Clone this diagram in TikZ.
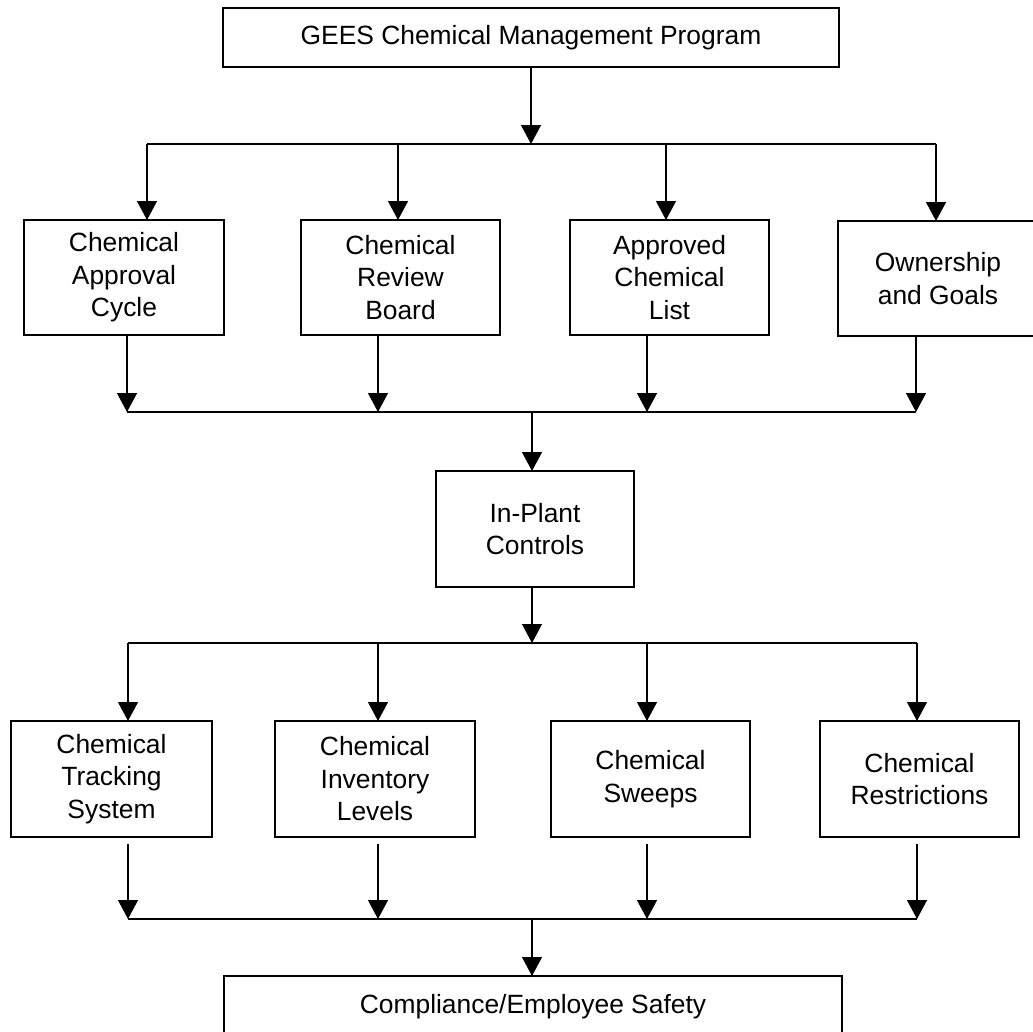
\documentclass[tikz,border=0pt]{standalone}
\usepackage{fontspec}
\setmainfont{Liberation Sans}
\usetikzlibrary{arrows.meta,calc}
\begin{document}
\begin{tikzpicture}[x=1pt,y=-1pt,
  box/.style={draw=black,line width=1.7pt,fill=white,outer sep=0pt,inner sep=0pt,align=center,
    font=\fontsize{26.4}{32.5}\selectfont},
  txt/.style={inner sep=0pt,font=\fontsize{26.4}{32.5}\selectfont},
  wire/.style={line width=1.3pt},
  arr/.style={line width=1.3pt,-{Triangle[length=19pt,width=20pt]}}]
\useasboundingbox (0,0) rectangle (1033,1031);
% nodes
\node[box,minimum width=616pt,minimum height=59pt] (top) at (531,37.5) {GEES Chemical Management Program};
\node[box,minimum width=200pt,minimum height=115pt] (b1) at (124,277.5) {Chemical\\Approval\\Cycle};
\node[box,minimum width=199pt,minimum height=115pt] (b2) at (400.5,277.5) {Chemical\\Review\\Board};
\node[box,minimum width=199pt,minimum height=115pt] (b3) at (669.5,277.5) {Approved\\Chemical\\List};
\node[box,minimum width=200pt,minimum height=115pt] (b4) at (938,278.5) {Ownership\\and Goals};
\node[box,minimum width=198pt,minimum height=116pt] (ipc) at (535,529) {In-Plant\\Controls};
\node[box,minimum width=201pt,minimum height=116pt] (c1) at (111.5,779) {Chemical\\Tracking\\System};
\node[box,minimum width=200pt,minimum height=116pt] (c2) at (375,779) {Chemical\\Inventory\\Levels};
\node[box,minimum width=199pt,minimum height=116pt] (c3) at (650.5,779) {Chemical\\Sweeps};
\node[box,minimum width=199pt,minimum height=116pt] (c4) at (919.5,779) {Chemical\\Restrictions};
\node[draw=black,line width=1.7pt,fill=white,outer sep=0pt,minimum width=618pt,minimum height=64pt,anchor=north] (bot) at (533,976) {};
\node[txt,anchor=base] (bottxt) at (533,1013) {Compliance/Employee Safety};
% junction coordinates
\coordinate (j1) at (531,144);
\coordinate (a1) at (147,144); \coordinate (a2) at (398,144);
\coordinate (a3) at (666,144); \coordinate (a4) at (936,144);
\coordinate (o1) at (127,412); \coordinate (o2) at (378,412);
\coordinate (o3) at (647,412); \coordinate (o4) at (916,412);
\coordinate (j2) at (532,412);
\coordinate (j3) at (532,643);
\coordinate (d1) at (128,643); \coordinate (d2) at (378,643);
\coordinate (d3) at (647,643); \coordinate (d4) at (917,643);
\coordinate (e1) at (128,919); \coordinate (e2) at (378,919);
\coordinate (e3) at (647,919); \coordinate (e4) at (917,919);
\coordinate (j4) at (532,919);
% top to row 1
\draw[arr] (top.south -| j1) -- (j1);
\draw[wire] (a1) -- (a4);
\foreach \a/\b in {a1/b1,a2/b2,a3/b3,a4/b4} \draw[arr] (\a) -- (\a |- \b.north);
% row 1 to in-plant
\foreach \b/\o in {b1/o1,b2/o2,b3/o3,b4/o4} \draw[arr] (\b.south -| \o) -- (\o);
\draw[wire] (o1) -- (o4);
\draw[arr] (j2) -- (j2 |- ipc.north);
% in-plant to row 2
\draw[arr] (ipc.south -| j3) -- (j3);
\draw[wire] (d1) -- (d4);
\foreach \d/\c in {d1/c1,d2/c2,d3/c3,d4/c4} \draw[arr] (\d) -- (\d |- \c.north);
% row 2 to compliance
\foreach \c/\e in {c1/e1,c2/e2,c3/e3,c4/e4} \draw[arr] ($(\c.south -| \e)+(0,7)$) -- (\e);
\draw[wire] (e1) -- (e4);
\draw[arr] (j4) -- (j4 |- bot.north);
\end{tikzpicture}
\end{document}
